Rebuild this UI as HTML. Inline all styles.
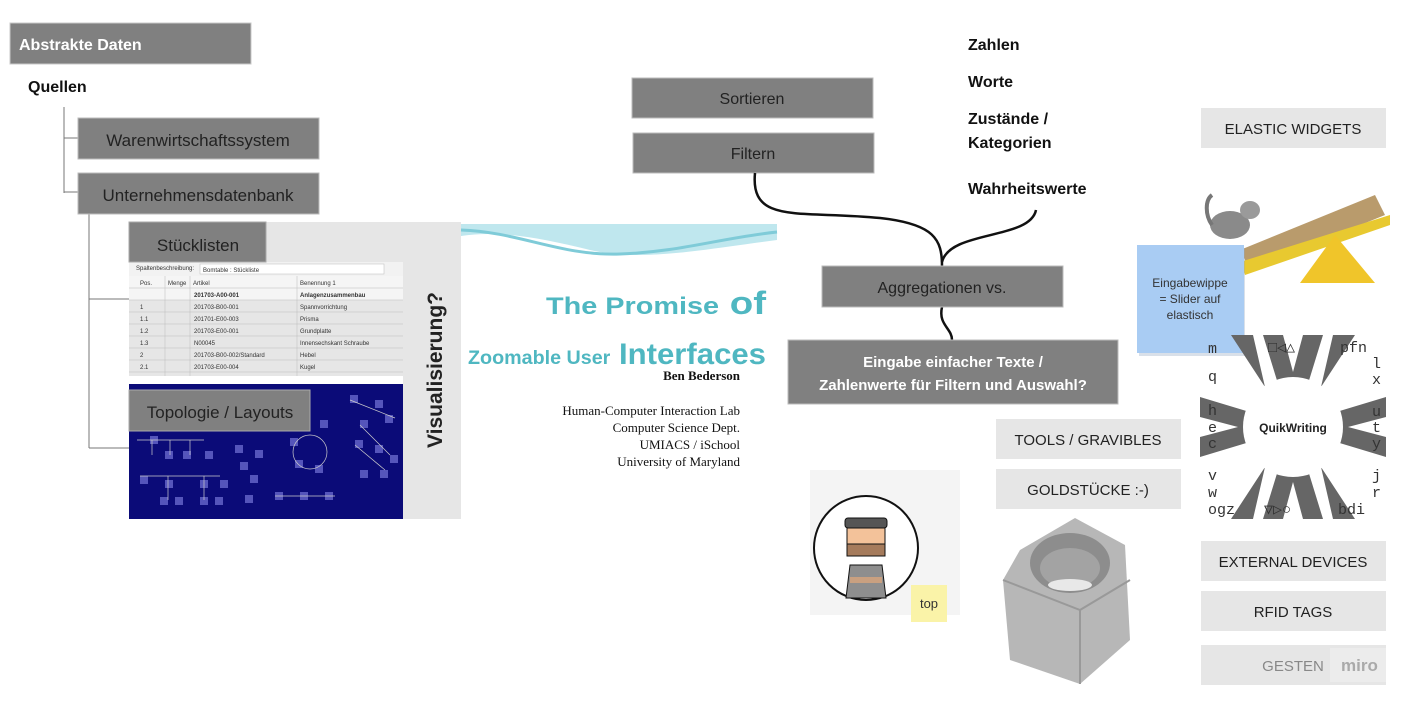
<!DOCTYPE html>
<html><head><meta charset="utf-8"><style>
html,body{margin:0;padding:0;background:#fff;}
svg{display:block;}
.s{font-family:"Liberation Sans",sans-serif;}
.r{font-family:"Liberation Serif",serif;}
.m{font-family:"Liberation Mono",monospace;}
</style></head><body>
<svg class="s" width="1418" height="704" viewBox="0 0 1418 704" xmlns="http://www.w3.org/2000/svg">
<rect width="1418" height="704" fill="#fff"/>
<!-- Left tree -->
<rect x="10" y="23" width="241" height="41" fill="#808080" stroke="#c8c8c8"/>
<text x="19" y="50" font-size="16" font-weight="bold" fill="#fff">Abstrakte Daten</text>
<text x="28" y="92" font-size="16" font-weight="bold" fill="#111">Quellen</text>
<path d="M64 107 V193 M64 138 H78 M64 192 H78 M89 214 V448 M89 299 H129 M89 448 H129" stroke="#777" fill="none" stroke-width="1"/>
<rect x="78" y="118" width="241" height="41" fill="#808080" stroke="#bbb"/>
<text x="198" y="146" font-size="17" text-anchor="middle" fill="#222">Warenwirtschaftssystem</text>
<rect x="78" y="173" width="241" height="41" fill="#808080" stroke="#bbb"/>
<text x="198" y="201" font-size="17" text-anchor="middle" fill="#222">Unternehmensdatenbank</text>
<!-- table screenshot -->
<rect x="129" y="222" width="274" height="154" fill="#e6e6e6"/>
<rect x="129" y="262" width="274" height="14" fill="#f2f2f2"/>
<rect x="200" y="264" width="184" height="10" fill="#fff" stroke="#bbb" stroke-width="0.5"/>
<rect x="129" y="276" width="274" height="24" fill="#f5f5f5"/>
<g stroke="#bbb" stroke-width="0.5">
<line x1="129" y1="288" x2="403" y2="288"/><line x1="129" y1="300" x2="403" y2="300"/>
<line x1="129" y1="312" x2="403" y2="312"/><line x1="129" y1="324" x2="403" y2="324"/>
<line x1="129" y1="336" x2="403" y2="336"/><line x1="129" y1="348" x2="403" y2="348"/>
<line x1="129" y1="360" x2="403" y2="360"/><line x1="129" y1="372" x2="403" y2="372"/>
<line x1="165" y1="276" x2="165" y2="376"/><line x1="190" y1="276" x2="190" y2="376"/><line x1="297" y1="276" x2="297" y2="376"/>
</g>
<g font-size="6" fill="#333">
<text x="140" y="285">Pos.</text><text x="168" y="285">Menge</text><text x="193" y="285">Artikel</text><text x="300" y="285">Benennung 1</text>
<text x="194" y="297" font-weight="bold">201703-A00-001</text><text x="300" y="297" font-weight="bold">Anlagenzusammenbau</text>
<text x="140" y="309">1</text><text x="194" y="309">201703-B00-001</text><text x="300" y="309">Spannvorrichtung</text>
<text x="140" y="321">1.1</text><text x="194" y="321">201701-E00-003</text><text x="300" y="321">Prisma</text>
<text x="140" y="333">1.2</text><text x="194" y="333">201703-E00-001</text><text x="300" y="333">Grundplatte</text>
<text x="140" y="345">1.3</text><text x="194" y="345">N00045</text><text x="300" y="345">Innensechskant Schraube</text>
<text x="140" y="357">2</text><text x="194" y="357">201703-B00-002/Standard</text><text x="300" y="357">Hebel</text>
<text x="140" y="369">2.1</text><text x="194" y="369">201703-E00-004</text><text x="300" y="369">Kugel</text>
<text x="136" y="270">Spaltenbeschreibung:</text><text x="203" y="272">Bomtable : Stückliste</text>
</g>
<rect x="129" y="222" width="137" height="40" fill="#808080" stroke="#aaa"/>
<text x="198" y="251" font-size="17" text-anchor="middle" fill="#222">Stücklisten</text>
<!-- topology -->
<rect x="129" y="384" width="274" height="135" fill="#0b0b78"/>
<g fill="#5555bb">
<rect x="150" y="436" width="8" height="8"/><rect x="165" y="451" width="8" height="8"/><rect x="183" y="451" width="8" height="8"/><rect x="205" y="451" width="8" height="8"/>
<rect x="140" y="476" width="8" height="8"/><rect x="165" y="480" width="8" height="8"/><rect x="200" y="480" width="8" height="8"/><rect x="220" y="480" width="8" height="8"/>
<rect x="160" y="497" width="8" height="8"/><rect x="175" y="497" width="8" height="8"/><rect x="200" y="497" width="8" height="8"/><rect x="215" y="497" width="8" height="8"/>
<rect x="235" y="445" width="8" height="8"/><rect x="255" y="450" width="8" height="8"/><rect x="240" y="462" width="8" height="8"/><rect x="250" y="475" width="8" height="8"/>
<rect x="245" y="495" width="8" height="8"/><rect x="290" y="438" width="8" height="8"/><rect x="320" y="420" width="8" height="8"/><rect x="295" y="460" width="8" height="8"/>
<rect x="315" y="465" width="8" height="8"/><rect x="275" y="492" width="8" height="8"/><rect x="300" y="492" width="8" height="8"/><rect x="325" y="492" width="8" height="8"/>
<rect x="350" y="395" width="8" height="8"/><rect x="375" y="400" width="8" height="8"/><rect x="360" y="420" width="8" height="8"/><rect x="385" y="415" width="8" height="8"/>
<rect x="355" y="440" width="8" height="8"/><rect x="375" y="445" width="8" height="8"/><rect x="390" y="455" width="8" height="8"/><rect x="360" y="470" width="8" height="8"/><rect x="380" y="470" width="8" height="8"/>
</g>
<g stroke="#ccc" stroke-width="0.7" fill="none">
<path d="M137 440 H204 M152 440 V455 M170 440 V455 M190 440 V455"/>
<path d="M140 476 H220 M168 476 V500 M204 476 V500"/>
<circle cx="310" cy="452" r="17"/><path d="M275 496 H335"/>
<path d="M350 400 L395 418 M360 425 L390 455 M355 445 L385 470"/>
</g>
<rect x="129" y="390" width="181" height="41" fill="#808080" stroke="#aaa"/>
<text x="220" y="418" font-size="17" text-anchor="middle" fill="#222">Topologie / Layouts</text>
<!-- Visualisierung strip -->
<rect x="403" y="222" width="58" height="297" fill="#e6e6e6"/>
<text transform="translate(442,370) rotate(-90)" font-size="21" font-weight="bold" text-anchor="middle" fill="#222">Visualisierung?</text>
<!-- Promise slide -->
<path d="M461 224 H777 V240 C700 250 640 262 590 250 C540 238 500 230 461 236 Z" fill="#bfe7ee"/>
<path d="M461 230 C520 232 560 256 620 254 C680 252 720 238 777 232" stroke="#7fcbd8" stroke-width="3" fill="none"/>
<text x="546" y="314" font-size="32" font-weight="bold" fill="#4fb7c1" textLength="220" lengthAdjust="spacingAndGlyphs"><tspan font-size="24">The Promise</tspan> of</text>
<text x="468" y="364" font-size="30" font-weight="bold" fill="#4fb7c1" textLength="298" lengthAdjust="spacingAndGlyphs"><tspan font-size="19">Zoomable User</tspan> Interfaces</text>
<text class="r" x="740" y="380" font-size="13" font-weight="bold" text-anchor="end" fill="#111">Ben Bederson</text>
<g class="r" font-size="13" text-anchor="end" fill="#111">
<text x="740" y="415">Human-Computer Interaction Lab</text>
<text x="740" y="432">Computer Science Dept.</text>
<text x="740" y="449">UMIACS / iSchool</text>
<text x="740" y="466">University of Maryland</text>
</g>
<!-- middle -->
<rect x="632" y="78" width="241" height="40" fill="#808080" stroke="#bbb"/>
<text x="752" y="104" font-size="16" text-anchor="middle" fill="#222">Sortieren</text>
<rect x="633" y="133" width="241" height="40" fill="#808080" stroke="#bbb"/>
<text x="753" y="159" font-size="16" text-anchor="middle" fill="#222">Filtern</text>
<path d="M755 173 C750 225 800 210 880 218 C935 224 942 240 942 266" stroke="#111" stroke-width="2.5" fill="none"/>
<path d="M1036 210 C1030 240 950 230 942 262" stroke="#111" stroke-width="2.5" fill="none"/>
<path d="M942 307 C938 325 952 328 952 340" stroke="#111" stroke-width="2.5" fill="none"/>
<rect x="822" y="266" width="241" height="41" fill="#808080" stroke="#bbb"/>
<text x="942" y="293" font-size="16" text-anchor="middle" fill="#222">Aggregationen vs.</text>
<rect x="788" y="340" width="330" height="64" fill="#808080" stroke="#bbb"/>
<text x="953" y="367" font-size="15" font-weight="bold" text-anchor="middle" fill="#fff">Eingabe einfacher Texte /</text>
<text x="953" y="390" font-size="15" font-weight="bold" text-anchor="middle" fill="#fff">Zahlenwerte für Filtern und Auswahl?</text>
<g font-size="16" font-weight="bold" fill="#111">
<text x="968" y="50">Zahlen</text><text x="968" y="87">Worte</text>
<text x="968" y="124">Zustände /</text><text x="968" y="148">Kategorien</text>
<text x="968" y="194">Wahrheitswerte</text>
</g>
<!-- right grey buttons -->
<g font-size="15" fill="#222" text-anchor="middle">
<rect x="996" y="419" width="185" height="40" fill="#e6e6e6"/><text x="1088" y="445">TOOLS / GRAVIBLES</text>
<rect x="996" y="469" width="185" height="40" fill="#e6e6e6"/><text x="1088" y="495">GOLDSTÜCKE :-)</text>
<rect x="1201" y="108" width="185" height="40" fill="#e6e6e6"/><text x="1293" y="134">ELASTIC WIDGETS</text>
<rect x="1201" y="541" width="185" height="40" fill="#e6e6e6"/><text x="1293" y="567">EXTERNAL DEVICES</text>
<rect x="1201" y="591" width="185" height="40" fill="#e6e6e6"/><text x="1293" y="617">RFID TAGS</text>
<rect x="1201" y="645" width="185" height="40" fill="#e6e6e6"/><text x="1293" y="671" fill="#888">GESTEN</text>
</g>
<rect x="1330" y="648" width="56" height="34" fill="#ececec"/>
<text x="1341" y="671" font-size="17" fill="#aaa" font-weight="bold">miro</text>
<!-- cat seesaw -->
<path d="M1240 250 L1375 195 L1385 215 L1250 270 Z" fill="#b99b6c"/>
<path d="M1240 262 L1390 215 L1390 225 L1245 275 Z" fill="#e8c930"/>
<path d="M1300 283 L1335 235 L1375 283 Z" fill="#f0c52a"/>
<ellipse cx="1230" cy="225" rx="20" ry="14" fill="#8a8a8a"/>
<ellipse cx="1250" cy="210" rx="10" ry="9" fill="#9a9a9a"/>
<path d="M1212 225 C1205 215 1205 200 1212 195" stroke="#777" stroke-width="4" fill="none"/>
<!-- blue sticky -->
<rect x="1139" y="248" width="106" height="108" fill="#93a7c0" opacity="0.35"/>
<rect x="1137" y="245" width="107" height="108" fill="#a9ccf3"/>
<g font-size="12" fill="#333" text-anchor="middle">
<text x="1190" y="287">Eingabewippe</text><text x="1190" y="303">= Slider auf</text><text x="1190" y="319">elastisch</text>
</g>
<!-- QuikWriting -->
<g transform="translate(1293,427)">
<g fill="#666">
<path d="M-14 -40 L-30 -92 L-10 -92 L0 -55 L10 -92 L30 -92 L14 -40 Z"/>
<path d="M-14 40 L-30 92 L-10 92 L0 55 L10 92 L30 92 L14 40 Z"/>
<path d="M-40 -14 L-93 -30 L-93 -10 L-55 0 L-93 10 L-93 30 L-40 14 Z"/>
<path d="M40 -14 L93 -30 L93 -10 L55 0 L93 10 L93 30 L40 14 Z"/>
<path d="M-28 -40 L-62 -92 L-40 -92 Z M28 -40 L62 -92 L40 -92 Z M-28 40 L-62 92 L-40 92 Z M28 40 L62 92 L40 92 Z"/>
</g>
<circle r="50" fill="#fff"/>
<text y="5" font-size="12" font-weight="bold" text-anchor="middle" fill="#222">QuikWriting</text>
</g>
<g class="m" font-size="15" fill="#333">
<text x="1208" y="353">m</text><text x="1208" y="381">q</text>
<text x="1208" y="415">h</text><text x="1208" y="432">e</text><text x="1208" y="448">c</text>
<text x="1208" y="480">v</text><text x="1208" y="497">w</text>
<text x="1208" y="514">ogz</text><text x="1338" y="514">bdi</text>
<text x="1340" y="352">pfn</text>
<text x="1372" y="368">l</text><text x="1372" y="384">x</text>
<text x="1372" y="416">u</text><text x="1372" y="432">t</text><text x="1372" y="448">y</text>
<text x="1372" y="480">j</text><text x="1372" y="497">r</text>
<text x="1268" y="352">□◁△</text><text x="1264" y="514">▽▷○</text>
</g>
<!-- avatar -->
<rect x="810" y="470" width="150" height="145" fill="#f4f4f4"/>
<circle cx="866" cy="548" r="52" fill="#fff" stroke="#111" stroke-width="2"/>
<rect x="845" y="518" width="42" height="10" rx="3" fill="#555" stroke="#111"/>
<rect x="847" y="528" width="38" height="16" fill="#f3c29a" stroke="#111"/>
<rect x="847" y="544" width="38" height="12" fill="#a57b5c" stroke="#111"/>
<path d="M850 565 H882 L886 598 H846 Z" fill="#8e8e8e" stroke="#111"/>
<path d="M850 580 H882" stroke="#c9a080" stroke-width="6"/>
<rect x="911" y="585" width="36" height="37" fill="#faf3a8"/>
<text x="929" y="608" font-size="13" text-anchor="middle" fill="#333">top</text>
<!-- nut -->
<path d="M1020 550 L1075 518 L1125 545 L1130 640 L1080 684 L1010 660 L1003 580 Z" fill="#b7b7b7"/>
<path d="M1003 580 L1080 610 L1130 580" stroke="#999" fill="none" stroke-width="2"/>
<path d="M1080 610 V684" stroke="#999" stroke-width="2"/>
<ellipse cx="1070" cy="563" rx="40" ry="30" fill="#8d8d8d"/>
<ellipse cx="1070" cy="568" rx="30" ry="20" fill="#a3a3a3"/>
<ellipse cx="1070" cy="585" rx="22" ry="6" fill="#e8e8e8"/>
</svg>
</body></html>
